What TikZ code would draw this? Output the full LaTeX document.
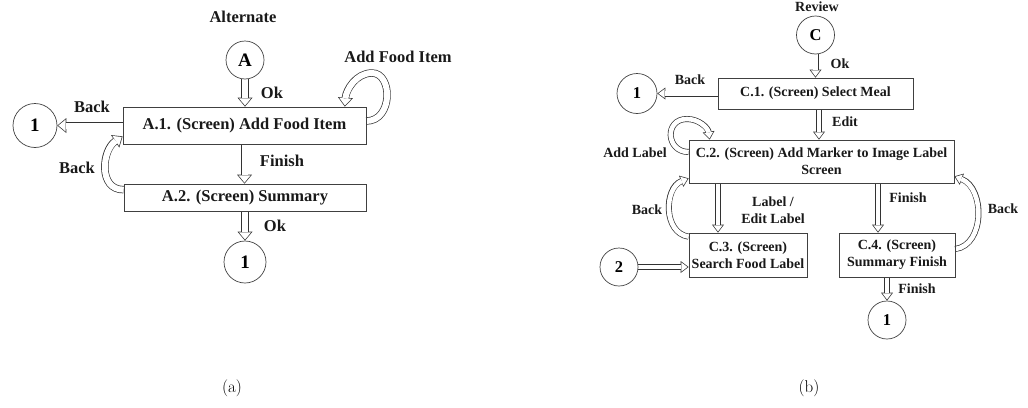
\documentclass[tikz,border=0pt]{standalone}
\usepackage{fontspec}
\newfontfamily\diagfont{Liberation Serif}
\usetikzlibrary{arrows.meta,backgrounds}

\tikzset{
  fa/.style={font=\diagfont\bfseries\fontsize{16.5}{18}\selectfont, inner sep=0pt, align=center, text=black!90},
  fb/.style={font=\diagfont\bfseries\fontsize{14}{17}\selectfont, inner sep=0pt, align=center, text=black!90},
  screenbox/.style={draw=black!75, line width=0.7pt, rectangle, inner sep=0pt, align=center},
  stateA/.style={draw=black!75, line width=0.7pt, circle, inner sep=0pt, minimum size=#1,
                 font=\diagfont\bfseries\fontsize{19}{21}\selectfont},
  stateB/.style={draw=black!75, line width=0.7pt, circle, inner sep=0pt, minimum size=#1,
                 font=\diagfont\bfseries\fontsize{16.5}{18}\selectfont},
  % hollow block arrows: dark outline drawn first, white core on top
  ha/.style={line width=6pt, white, -{Triangle[width=12pt,length=7.2pt,line width=0pt]},
             shorten >=1.1pt,
             preaction={draw=black!80, line width=7.4pt,
                        -{Triangle[width=15pt,length=9pt,line width=0pt]}, shorten >=0pt}},
  hb/.style={line width=4.6pt, white, -{Triangle[width=9.2pt,length=6.1pt,line width=0pt]},
             shorten >=1.2pt,
             preaction={draw=black!80, line width=6pt,
                        -{Triangle[width=12pt,length=8pt,line width=0pt]}, shorten >=0pt}},
  caption/.style={font=\fontsize{17}{20}\selectfont, inner sep=0pt}
}

\begin{document}
\begin{tikzpicture}[x=1pt,y=-1pt]
\useasboundingbox (0,0) rectangle (1028,407);

% ---------------- (a) Alternate flow ----------------
\node[fa] (alt) at (243,17) {Alternate};
\node[stateA=38pt] (A) at (245,60) {A};
\node[screenbox, fa, minimum width=243pt, minimum height=37pt] (A1) at (244.5,125.5) {A.1. (Screen) Add Food Item};
\node[screenbox, fa, minimum width=242pt, minimum height=27pt] (A2) at (245,197.5) {A.2. (Screen) Summary};
\node[stateA=44pt] (oneA1) at (35,125.5) {1};
\node[stateA=42pt] (oneA2) at (245,262) {1};

\node[fa] (okA) at (272,93) {Ok};
\node[fa] (backA1) at (92,107) {Back};
\node[fa] (addfood) at (398,57) {Add Food Item};
\node[fa] (finA) at (282,161) {Finish};
\node[fa] (backA2) at (77,168) {Back};
\node[fa] (okA2) at (275,226) {Ok};

% ---------------- (b) Review flow ----------------
\node[fb] (review) at (817,7) {Review};
\node[stateB=38pt] (C) at (815.5,35) {C};
\node[screenbox, fb, minimum width=195pt, minimum height=31pt] (C1) at (815.5,93.5) {C.1. (Screen) Select Meal};
\node[stateB=40pt] (oneB1) at (637,93.5) {1};
\node[screenbox, fb, minimum width=265pt, minimum height=43pt] (C2) at (821.5,161.5) {C.2. (Screen) Add Marker to Image Label\\Screen};
\node[screenbox, fb, minimum width=118pt, minimum height=44pt] (C3) at (748,255) {C.3. (Screen)\\Search Food Label};
\node[screenbox, fb, minimum width=116pt, minimum height=44pt] (C4) at (897,255) {C.4. (Screen)\\Summary Finish};
\node[stateB=38pt] (two) at (619,267) {2};
\node[stateB=38pt] (oneB2) at (887,320) {1};

\node[fb] (okC) at (840,64) {Ok};
\node[fb] (backC1) at (690,80) {Back};
\node[fb] (editC) at (845,122) {Edit};
\node[fb] (addlabel) at (635,153) {Add Label};
\node[fb] (labeledit) at (773,210.5) {Label /\\Edit Label};
\node[fb] (finC2) at (908,198) {Finish};
\node[fb] (backC3) at (647,210) {Back};
\node[fb] (backC4) at (1003,209) {Back};
\node[fb] (finC4) at (917,289) {Finish};

\coordinate (e1) at ([xshift=3.5pt]C1.south);
\coordinate (e2) at ([xshift=-30pt]C3.north);
\coordinate (e3) at ([xshift=-19pt]C4.north);

% captions
\node[caption] (capa) at (232,388) {(a)};
\node[caption] (capb) at (809,388) {(b)};

% ---------------- connectors (behind the boxes) ----------------
\begin{scope}[on background layer]
  % (a)
  \draw[ha] (A.south) -- (A.south |- A1.north);
  \draw[ha] (A1.west) -- (oneA1.east);
  \draw[ha] (A1.south) -- (A1.south |- A2.north);
  \draw[ha] (A2.south) -- (A2.south |- oneA2.north);
  \draw[ha] ([yshift=4.5pt]A1.east) .. controls (393,121) and (393,73) .. (372,73)
            .. controls (356,73) and (346,90) .. ([xshift=-21.5pt]A1.north east);
  \draw[ha] ([yshift=-6pt]A2.north west) .. controls (98,190) and (102,150) .. ([yshift=8pt]A1.south west);
  % (b)
  \draw[hb] (C.south) -- (C.south |- C1.north);
  \draw[hb] (C1.west) -- (oneB1.east);
  \draw[hb] (e1) -- (e1 |- C2.north);
  \draw[hb] (e2 |- C2.south) -- (e2);
  \draw[hb] (e3 |- C2.south) -- (e3);
  \draw[hb] (C4.south -| oneB2.north) -- (oneB2.north);
  \draw[hb] (two.east) -- (two.east -| C3.west);
  \draw[hb] ([yshift=9.5pt]C2.west) .. controls (666,152) and (664,119) .. (687,119)
            .. controls (699,119) and (708,128) .. ([xshift=21pt]C2.north west);
  \draw[hb] ([yshift=-4pt]C3.north west) .. controls (663,233) and (664,188) .. ([yshift=5pt]C2.south west);
  \draw[hb] ([yshift=6pt]C4.east) .. controls (985,245) and (985,188) .. ([yshift=7pt]C2.south east);
\end{scope}
\end{tikzpicture}
\end{document}
